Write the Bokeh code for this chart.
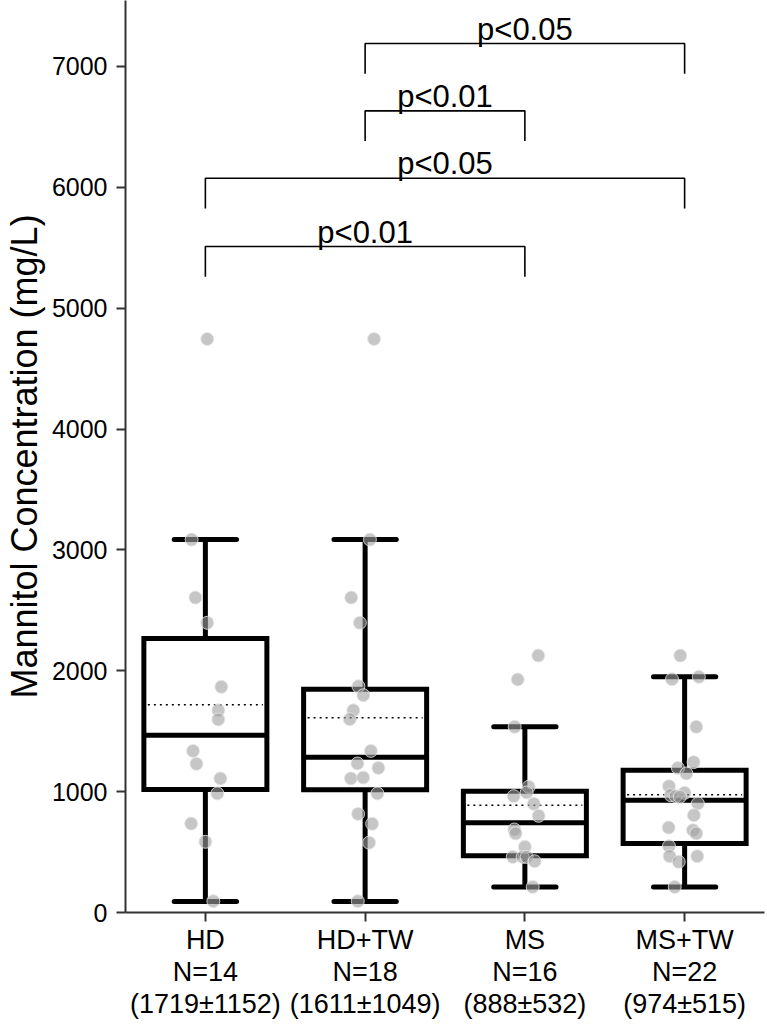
from bokeh.plotting import figure
from bokeh.models import ColumnDataSource, FixedTicker, Range1d
from bokeh.embed import file_html
from bokeh.resources import INLINE
from bokeh.core.properties import value

# ---------------- data ----------------
groups = ["HD", "HD+TW", "MS", "MS+TW"]
n_values = [14, 18, 16, 22]
mean_values = [1719, 1611, 888, 974]
sd_values = [1152, 1049, 532, 515]

whisker_low = [90, 90, 212, 212]
q1_values = [1018, 1015, 469, 571]
median_values = [1467, 1285, 742, 929]
q3_values = [2267, 1848, 1004, 1177]
whisker_high = [3086, 3086, 1536, 1950]

hd_points = [3086, 2606, 2397, 1867, 1673, 1597, 1337, 1230, 1109, 985, 736, 585, 94, 4745]
hd_jitter = [-0.086, -0.062, 0.012, 0.10, 0.081, 0.081, -0.077, -0.056, 0.094, 0.075, -0.089, 0.0, 0.05, 0.012]

hdtw_points = [3086, 2606, 2397, 1872, 1798, 1673, 1599, 1337, 1233, 1196, 1109, 1117, 985, 816, 734, 578, 94, 4745]
hdtw_jitter = [0.03, -0.087, -0.033, -0.042, -0.011, -0.074, -0.096, 0.036, -0.048, 0.083, -0.089, -0.012, 0.077, -0.044, 0.044, 0.025, -0.046, 0.056]

ms_points = [2126, 1928, 1536, 1040, 993, 963, 899, 800, 687, 654, 543, 460, 460, 460, 424, 212]
ms_jitter = [0.084, -0.045, -0.064, 0.024, 0.011, -0.07, 0.056, 0.086, -0.066, -0.058, 0.0, -0.076, -0.014, 0.011, 0.061, 0.049]

mstw_points = [2126, 1950, 1930, 1536, 1244, 1196, 1150, 1045, 990, 971, 963, 957, 902, 805, 703, 681, 654, 549, 466, 466, 419, 212]
mstw_jitter = [-0.027, 0.089, -0.079, 0.073, 0.056, -0.042, 0.011, -0.098, 0.0, -0.087, -0.056, -0.03, 0.083, 0.058, -0.1, 0.052, 0.073, -0.098, -0.094, 0.079, -0.037, -0.062]

y_ticks = [0, 1000, 2000, 3000, 4000, 5000, 6000, 7000]

bracket_from = [1, 1, 0, 0]
bracket_to = [3, 2, 3, 2]
bracket_level = [7190, 6633, 6075, 5510]
bracket_text = ["p<0.05", "p<0.01", "p<0.05", "p<0.01"]

# ---------------- figure ----------------
FONT = "Liberation Sans"
p = figure(frame_width=639, frame_height=912,
           x_range=Range1d(-0.5, 3.5), y_range=Range1d(0, 7546),
           output_backend="svg", toolbar_location=None,
           min_border_left=118, min_border_right=2, min_border_top=0, min_border_bottom=114,
           background_fill_color="white", border_fill_color="white")
p.outline_line_color = None
p.grid.visible = False

xs = list(range(len(groups)))
box_half = 0.385
cap_half = 0.195
mean_half = 0.36

box_src = ColumnDataSource(dict(
    x=xs, left=[x - box_half for x in xs], right=[x + box_half for x in xs],
    q1=q1_values, q3=q3_values, med=median_values, lo=whisker_low, hi=whisker_high,
    mean=mean_values,
    cl=[x - cap_half for x in xs], cr=[x + cap_half for x in xs],
    ml=[x - mean_half for x in xs], mr=[x + mean_half for x in xs],
))

# whiskers
p.segment(x0="x", y0="q3", x1="x", y1="hi", source=box_src, line_color="black", line_width=5)
p.segment(x0="x", y0="lo", x1="x", y1="q1", source=box_src, line_color="black", line_width=5)
# caps
p.segment(x0="cl", y0="hi", x1="cr", y1="hi", source=box_src, line_color="black", line_width=5, line_cap="round")
p.segment(x0="cl", y0="lo", x1="cr", y1="lo", source=box_src, line_color="black", line_width=5, line_cap="round")
# boxes
p.quad(left="left", right="right", bottom="q1", top="q3", source=box_src,
       fill_color="white", line_color="black", line_width=5, line_join="miter")
# medians
p.segment(x0="left", y0="med", x1="right", y1="med", source=box_src, line_color="black", line_width=5)
# means
p.segment(x0="ml", y0="mean", x1="mr", y1="mean", source=box_src, line_color="black",
          line_width=1.6, line_dash="2 4")

# points
all_pts, all_x = [], []
for gi, (pts, jit) in enumerate([(hd_points, hd_jitter), (hdtw_points, hdtw_jitter),
                                 (ms_points, ms_jitter), (mstw_points, mstw_jitter)]):
    for v, j in zip(pts, jit):
        all_pts.append(v)
        all_x.append(gi + j)
pt_src = ColumnDataSource(dict(x=all_x, y=all_pts))
p.scatter(x="x", y="y", source=pt_src, size=13, fill_color="#a0a0a0", fill_alpha=0.6,
          line_color="#e6e6e6", line_alpha=0.8, line_width=1)

# significance brackets
drop = 250
br_src = ColumnDataSource(dict(
    xs=[[a, a, b, b] for a, b in zip(bracket_from, bracket_to)],
    ys=[[lv - drop, lv, lv, lv - drop] for lv in bracket_level],
))
p.multi_line(xs="xs", ys="ys", source=br_src, line_color="black", line_width=1.6)
txt_src = ColumnDataSource(dict(
    x=[(a + b) / 2 for a, b in zip(bracket_from, bracket_to)],
    y=bracket_level, t=bracket_text))
p.text(x="x", y="y", text="t", source=txt_src, text_align="center", text_baseline="bottom",
       text_font=value(FONT), text_font_size="31px", text_color="black", y_offset=3)

# axes
for ax in (p.xaxis[0], p.yaxis[0]):
    ax.axis_line_color = "#333333"
    ax.axis_line_width = 2
    ax.major_tick_line_color = "#333333"
    ax.major_tick_line_width = 2
    ax.major_tick_out = 9
    ax.major_tick_in = 0
    ax.minor_tick_line_color = None
    ax.major_label_text_font = FONT
    ax.major_label_text_color = "black"

p.xaxis.ticker = FixedTicker(ticks=xs)
p.xaxis.major_label_overrides = {
    i: f"{g}\nN={n}\n({m}\u00b1{s})" for i, (g, n, m, s) in enumerate(zip(groups, n_values, mean_values, sd_values))
}
p.xaxis.major_label_text_font_size = "27px"
p.xaxis.major_label_text_line_height = 1.08
p.xaxis.major_label_standoff = 3

p.yaxis.ticker = FixedTicker(ticks=y_ticks)
p.yaxis.major_label_text_font_size = "25px"
p.yaxis.major_label_standoff = 9
p.yaxis.axis_label = "Mannitol Concentration (mg/L)"
p.yaxis.axis_label_text_font = FONT
p.yaxis.axis_label_text_font_size = "36px"
p.yaxis.axis_label_text_font_style = "normal"
p.yaxis.axis_label_text_color = "black"
p.yaxis.axis_label_standoff = 4

open("out.html", "w").write(file_html(p, INLINE))
